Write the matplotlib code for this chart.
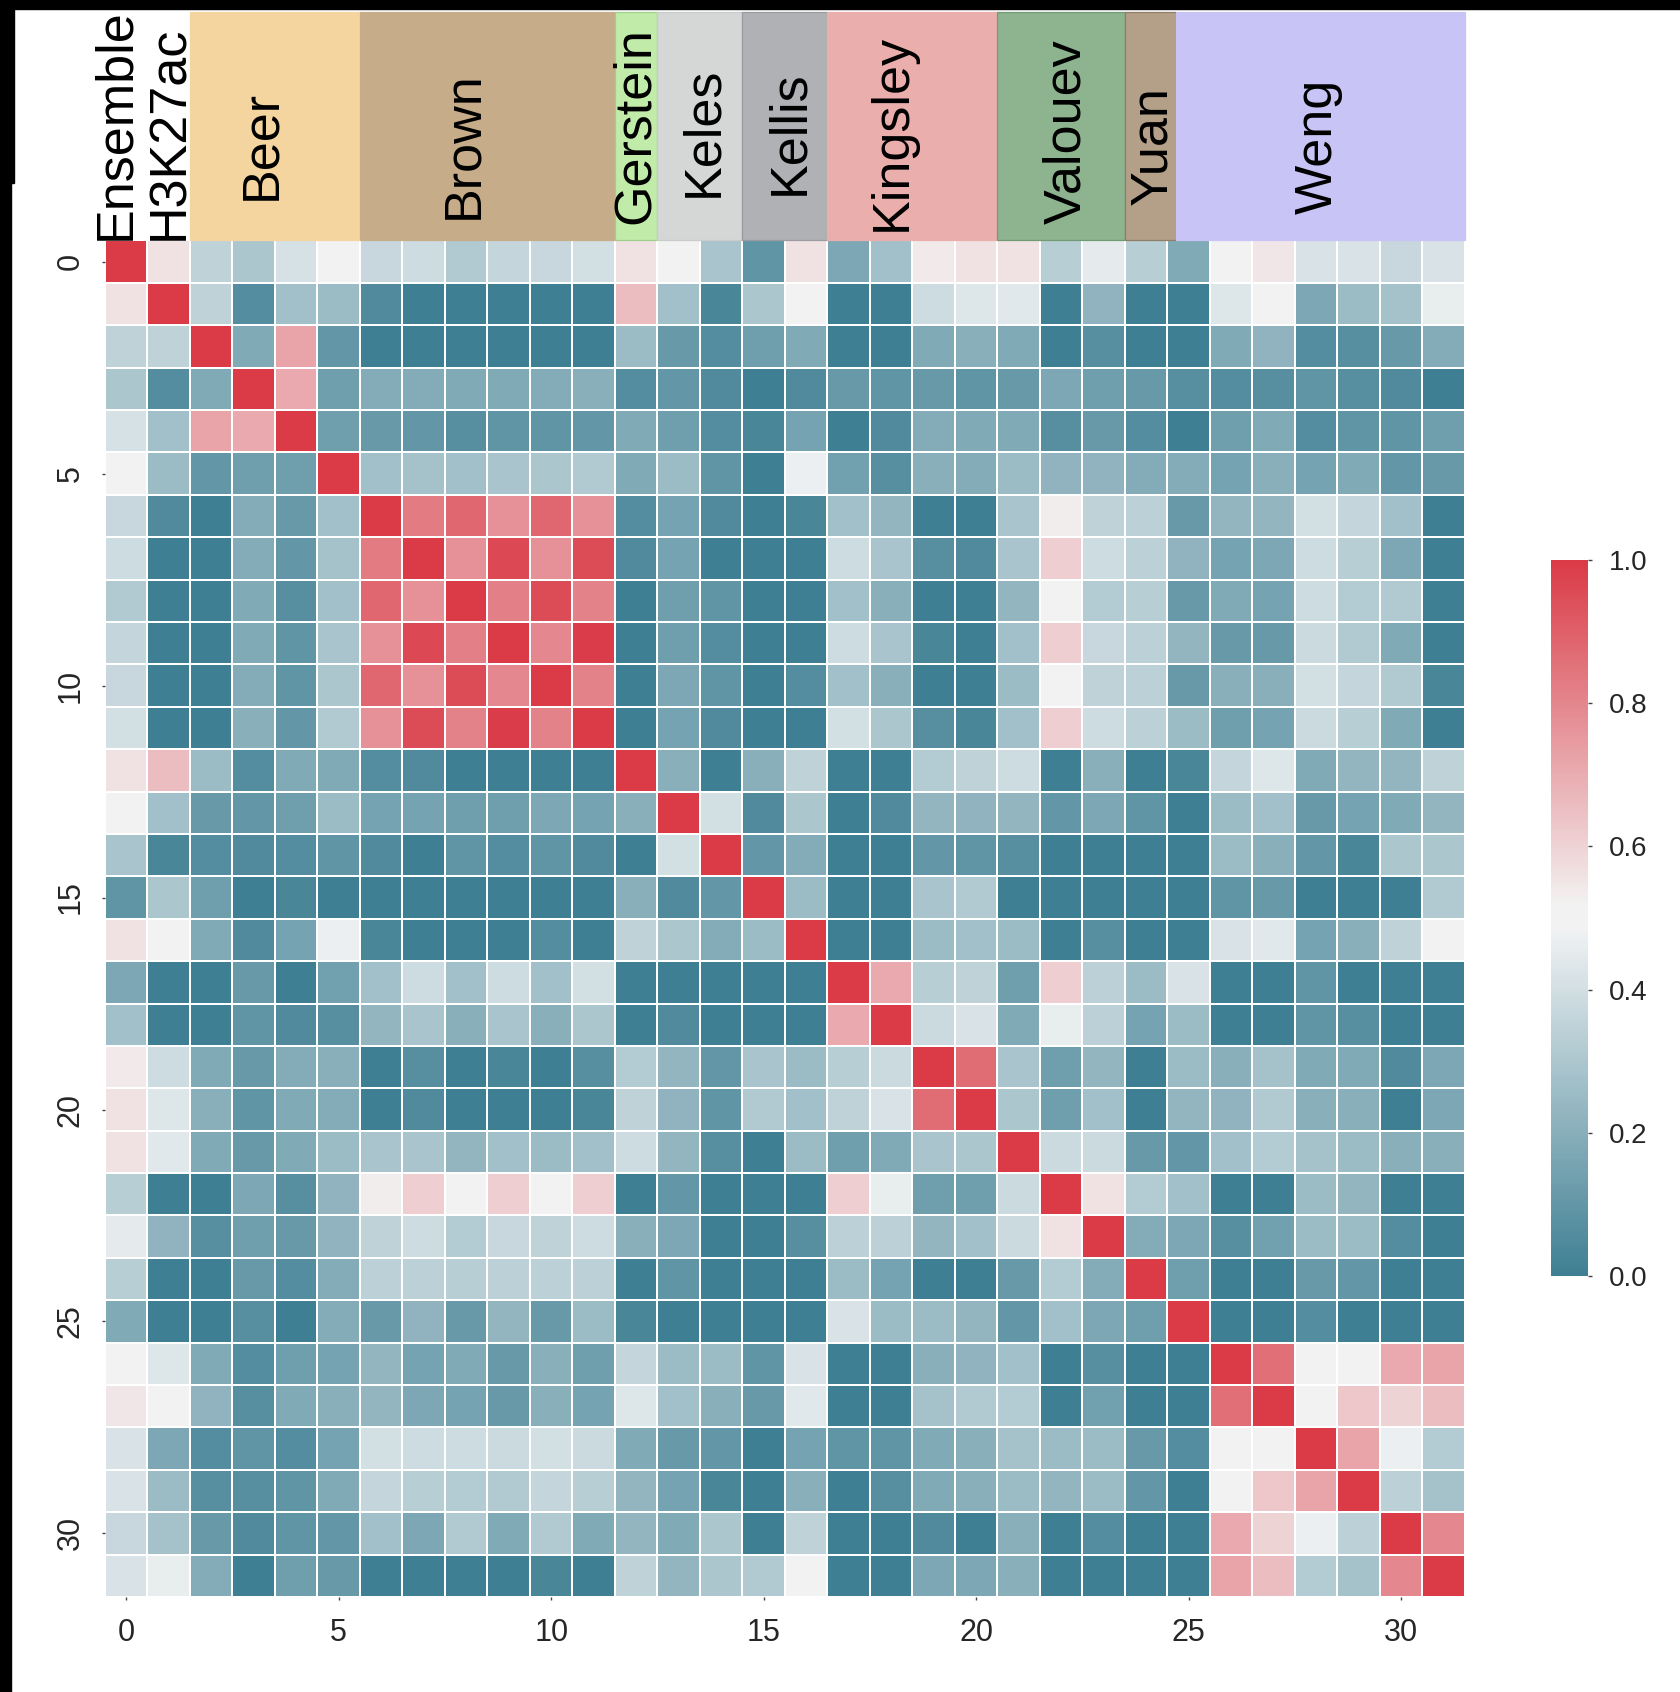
import numpy as np
import matplotlib
matplotlib.use("Agg")
import matplotlib.pyplot as plt
import matplotlib.patches as mpatches
import seaborn as sns

# ── Data ──────────────────────────────────────────────────────────────────────
SINGLE_LABELS = ["Ensemble", "H3K27ac"]
GROUPS = ["Beer", "Brown", "Gerstein", "Keles", "Kellis",
          "Kingsley", "Valouev", "Yuan", "Weng"]
GROUP_START = [2, 6, 12, 13, 15, 17, 21, 24, 25]
GROUP_SIZE = [4, 6, 1, 2, 2, 4, 3, 1, 7]
GROUP_COLORS = ["#f4d5a0", "#c6ac89", "#c1eba9", "#d5d6d6", "#b0b1b4",
                "#eaafac", "#8db48f", "#b4a089", "#c8c4f5"]
GROUP_EDGES = ["#f4d5a0", "#c6ac89", "#9fd08a", "#c9caca", "#9a9ba0",
               "#eaafac", "#6f9a72", "#8f7d66", "#c8c4f5"]

TICKS = [0, 5, 10, 15, 20, 25, 30]
CBAR_TICKS = [0.0, 0.2, 0.4, 0.6, 0.8, 1.0]

# lower triangle of the correlation matrix, row i holds columns 0..i-1
LOWER = [
    [0.56],
    [0.35, 0.35],
    [0.30, 0.06, 0.18],
    [0.41, 0.27, 0.72, 0.71],
    [0.50, 0.25, 0.10, 0.13, 0.13],
    [0.37, 0.05, 0.00, 0.19, 0.11, 0.27],
    [0.39, 0.00, 0.00, 0.19, 0.10, 0.28, 0.83],
    [0.31, 0.00, 0.00, 0.18, 0.07, 0.27, 0.88, 0.77],
    [0.36, 0.00, 0.00, 0.18, 0.09, 0.29, 0.77, 0.96, 0.82],
    [0.37, 0.00, 0.00, 0.19, 0.09, 0.30, 0.88, 0.77, 0.95, 0.80],
    [0.40, 0.00, 0.00, 0.20, 0.10, 0.31, 0.77, 0.95, 0.81, 0.99, 0.81],
    [0.56, 0.66, 0.25, 0.06, 0.18, 0.18, 0.06, 0.05, 0.00, 0.00, 0.00, 0.00],
    [0.50, 0.27, 0.11, 0.10, 0.13, 0.25, 0.15, 0.15, 0.13, 0.13, 0.17, 0.15,
     0.20],
    [0.29, 0.03, 0.06, 0.05, 0.06, 0.09, 0.05, 0.00, 0.09, 0.06, 0.09, 0.05,
     0.00, 0.40],
    [0.09, 0.30, 0.13, 0.00, 0.03, 0.00, 0.00, 0.00, 0.00, 0.00, 0.00, 0.00,
     0.20, 0.05, 0.10],
    [0.56, 0.50, 0.18, 0.05, 0.15, 0.47, 0.03, 0.00, 0.00, 0.00, 0.06, 0.00,
     0.35, 0.30, 0.19, 0.25],
    [0.17, 0.00, 0.00, 0.11, 0.00, 0.14, 0.27, 0.39, 0.27, 0.39, 0.27, 0.40,
     0.00, 0.00, 0.00, 0.00, 0.00],
    [0.27, 0.00, 0.00, 0.09, 0.05, 0.07, 0.23, 0.29, 0.20, 0.29, 0.20, 0.30,
     0.00, 0.05, 0.00, 0.00, 0.00, 0.71],
    [0.54, 0.39, 0.18, 0.11, 0.19, 0.20, 0.00, 0.07, 0.00, 0.03, 0.00, 0.07,
     0.32, 0.23, 0.10, 0.29, 0.25, 0.33, 0.38],
    [0.56, 0.43, 0.20, 0.09, 0.18, 0.19, 0.00, 0.05, 0.00, 0.00, 0.00, 0.03,
     0.35, 0.22, 0.09, 0.31, 0.27, 0.35, 0.42, 0.87],
    [0.56, 0.44, 0.18, 0.11, 0.18, 0.25, 0.29, 0.29, 0.23, 0.27, 0.25, 0.27,
     0.39, 0.23, 0.07, 0.00, 0.25, 0.13, 0.18, 0.29, 0.30],
    [0.33, 0.00, 0.00, 0.17, 0.07, 0.22, 0.53, 0.61, 0.50, 0.61, 0.50, 0.61,
     0.00, 0.10, 0.00, 0.00, 0.00, 0.61, 0.46, 0.13, 0.13, 0.38],
    [0.45, 0.22, 0.07, 0.13, 0.11, 0.22, 0.35, 0.39, 0.32, 0.37, 0.35, 0.39,
     0.20, 0.17, 0.00, 0.00, 0.07, 0.34, 0.34, 0.23, 0.27, 0.38, 0.56],
    [0.33, 0.00, 0.00, 0.11, 0.06, 0.19, 0.34, 0.34, 0.33, 0.34, 0.34, 0.34,
     0.00, 0.09, 0.00, 0.00, 0.00, 0.25, 0.15, 0.00, 0.00, 0.11, 0.32, 0.19],
    [0.18, 0.00, 0.00, 0.07, 0.00, 0.19, 0.11, 0.22, 0.11, 0.23, 0.11, 0.25,
     0.03, 0.00, 0.00, 0.00, 0.00, 0.42, 0.25, 0.25, 0.23, 0.10, 0.27, 0.17,
     0.13],
    [0.50, 0.43, 0.18, 0.06, 0.13, 0.15, 0.23, 0.15, 0.18, 0.11, 0.20, 0.13,
     0.36, 0.25, 0.25, 0.09, 0.42, 0.00, 0.00, 0.20, 0.22, 0.27, 0.00, 0.07,
     0.00, 0.00],
    [0.55, 0.50, 0.22, 0.07, 0.18, 0.20, 0.23, 0.17, 0.15, 0.11, 0.20, 0.15,
     0.43, 0.27, 0.20, 0.11, 0.44, 0.00, 0.00, 0.28, 0.31, 0.32, 0.00, 0.14,
     0.00, 0.00, 0.86],
    [0.42, 0.17, 0.06, 0.09, 0.06, 0.15, 0.40, 0.39, 0.39, 0.38, 0.40, 0.38,
     0.18, 0.11, 0.10, 0.00, 0.15, 0.09, 0.09, 0.18, 0.20, 0.28, 0.25, 0.25,
     0.11, 0.06, 0.50, 0.50],
    [0.42, 0.25, 0.07, 0.07, 0.09, 0.18, 0.36, 0.33, 0.32, 0.31, 0.36, 0.33,
     0.23, 0.15, 0.03, 0.00, 0.20, 0.00, 0.07, 0.18, 0.20, 0.25, 0.23, 0.25,
     0.10, 0.00, 0.50, 0.63, 0.72],
    [0.37, 0.28, 0.11, 0.05, 0.09, 0.10, 0.27, 0.17, 0.31, 0.18, 0.31, 0.18,
     0.23, 0.18, 0.30, 0.00, 0.35, 0.00, 0.00, 0.05, 0.00, 0.20, 0.00, 0.06,
     0.00, 0.00, 0.71, 0.60, 0.47, 0.34],
    [0.42, 0.46, 0.19, 0.00, 0.13, 0.11, 0.00, 0.00, 0.00, 0.00, 0.03, 0.00,
     0.35, 0.23, 0.30, 0.31, 0.50, 0.00, 0.00, 0.17, 0.17, 0.20, 0.00, 0.00,
     0.00, 0.00, 0.72, 0.66, 0.32, 0.28, 0.80],
]

n = len(LOWER) + 1
corr = np.eye(n)
for i, row in enumerate(LOWER, start=1):
    corr[i, :i] = row
    corr[:i, i] = row

# ── Figure ────────────────────────────────────────────────────────────────────
W, H = 1681, 1692
fig = plt.figure(figsize=(W / 100, H / 100), dpi=100)
ax = fig.add_axes([105 / W, 1 - 1597 / H, 1360 / W, 1356.5 / H])
cax = fig.add_axes([1551 / W, 1 - 1276 / H, 37 / W, 716 / H])

cmap = sns.diverging_palette(220, 10, sep=10, as_cmap=True)
mesh = ax.pcolormesh(corr, cmap=cmap, vmin=0, vmax=1,
                     edgecolors="white", linewidth=1.4)
ax.set_xlim(0, n)
ax.set_ylim(n, 0)
for s in ax.spines.values():
    s.set_visible(False)

tick_font = ["Liberation Sans Narrow", "Liberation Sans"]
ax.set_xticks(np.array(TICKS) + 0.5)
ax.set_xticklabels([str(t) for t in TICKS], fontsize=22, family=tick_font,
                   color="#262626")
ax.set_yticks(np.array(TICKS) + 0.5)
ax.set_yticklabels([str(t) for t in TICKS], fontsize=22, family=tick_font,
                   color="#262626", rotation=90, va="center")
ax.tick_params(axis="x", length=2, width=1, color="#444444", pad=13)
ax.tick_params(axis="y", length=2, width=1, color="#444444", pad=12)

# group header boxes above the matrix; the Yuan tab is drawn a bit wider
box_top = -5.39
box_shift = {"Yuan": (0.0, 0.2), "Weng": (0.2, -0.2)}
for name, start, size, fc, ec in zip(GROUPS, GROUP_START, GROUP_SIZE,
                                     GROUP_COLORS, GROUP_EDGES):
    dx, dw = box_shift.get(name, (0.0, 0.0))
    ax.add_patch(mpatches.Rectangle((start + dx, box_top), size + dw, -box_top,
                                    facecolor=fc, edgecolor=ec, linewidth=0.9,
                                    clip_on=False, zorder=1))

label_kw = dict(rotation=90, fontsize=37.5, family="Liberation Sans",
                color="black", clip_on=False, zorder=3)
single_x = [0.25, 1.53]
for name, x in zip(SINGLE_LABELS, single_x):
    ax.text(x, -0.02, name, ha="center", va="bottom", **label_kw)

group_x = [3.68, 8.45, 12.47, 14.1, 16.1, 18.52, 22.62, 24.65, 28.54]
group_y = [-2.25, -2.25, -2.72, -2.56, -2.54, -2.56, -2.56, -2.25, -2.23]
for name, x, y in zip(GROUPS, group_x, group_y):
    ax.text(x, y, name, ha="center", va="center", **label_kw)

# colour bar
cb = fig.colorbar(mesh, cax=cax)
cb.outline.set_visible(False)
cb.set_ticks(CBAR_TICKS)
cb.set_ticklabels([f"{t:.1f}" for t in CBAR_TICKS])
cax.tick_params(labelsize=20, length=3, width=1, color="#444444",
                labelcolor="#262626", pad=12)
for lbl in cax.get_yticklabels():
    lbl.set_family("Liberation Sans")

# dark frame along the top and left edges
fig.add_artist(mpatches.Rectangle((0, 1 - 9 / H), 1, 9 / H,
                                  transform=fig.transFigure, color="black"))
fig.add_artist(mpatches.Rectangle((0, 0), 11 / W, 1,
                                  transform=fig.transFigure, color="black"))
fig.add_artist(mpatches.Rectangle((0, 1 - 183 / H), 14 / W, 183 / H,
                                  transform=fig.transFigure, color="black"))

fig.savefig("out.png", dpi=100, facecolor="white")
